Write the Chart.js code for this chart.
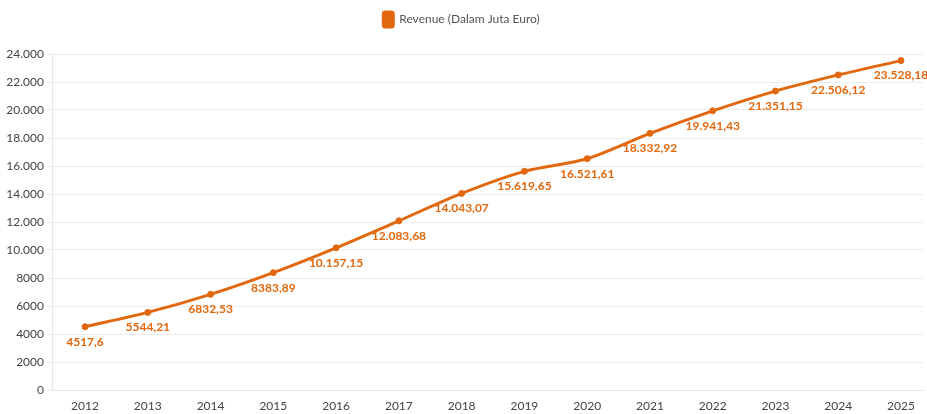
<!DOCTYPE html>
<html>
<head>
<meta charset="utf-8">
<script src="https://cdn.jsdelivr.net/npm/chart.js@4"></script>
<style>
  html, body { margin: 0; padding: 0; background: #fff; }
  #wrap { width: 927px; height: 414px; }
</style>
</head>
<body>
<div id="wrap"><canvas id="chart"></canvas></div>
<script>
const years = [2012, 2013, 2014, 2015, 2016, 2017, 2018, 2019, 2020, 2021, 2022, 2023, 2024, 2025];
const revenue = [4517.6, 5544.21, 6832.53, 8383.89, 10157.15, 12083.68, 14043.07, 15619.65, 16521.61, 18332.92, 19941.43, 21351.15, 22506.12, 23528.18];
const yTicks = [0, 2000, 4000, 6000, 8000, 10000, 12000, 14000, 16000, 18000, 20000, 22000, 24000];

const orange = '#e2680f';
const fontFam = 'Lato, "Open Sans", sans-serif';

// 8000 stays as is, 10.000 gets a dot (as in the picture)
function fmtNum(v) {
  if (Math.abs(v) >= 10000) return v.toLocaleString('de-DE', { maximumFractionDigits: 2 });
  return String(v).replace('.', ',');
}

// extra room under the legend
const legendGap = {
  id: 'legendGap',
  beforeInit(chart) {
    const origFit = chart.legend.fit;
    chart.legend.fit = function () {
      origFit.bind(chart.legend)();
      this.height += 17;
    };
  }
};

// value labels under each point
const valueLabels = {
  id: 'valueLabels',
  afterDatasetsDraw(chart) {
    const ctx = chart.ctx;
    const meta = chart.getDatasetMeta(0);
    ctx.save();
    ctx.font = 'bold 12px ' + fontFam;
    ctx.fillStyle = orange;
    ctx.textAlign = 'center';
    ctx.textBaseline = 'middle';
    meta.data.forEach((pt, i) => {
      ctx.fillText(fmtNum(revenue[i]), pt.x, pt.y + 15);
    });
    ctx.restore();
  }
};

new Chart(document.getElementById('chart'), {
  type: 'line',
  data: {
    datasets: [{
      label: 'Revenue (Dalam Juta Euro)',
      data: years.map((y, i) => ({ x: y, y: revenue[i] })),
      borderColor: orange,
      backgroundColor: orange,
      borderWidth: 3,
      pointRadius: 3,
      pointBorderWidth: 1,
      pointHoverRadius: 3,
      tension: 0.25,
      fill: false
    }]
  },
  options: {
    responsive: true,
    maintainAspectRatio: false,
    animation: false,
    layout: { padding: { top: 0, right: 4, bottom: 0, left: 0 } },
    plugins: {
      tooltip: { enabled: false },
      legend: {
        labels: {
          boxWidth: 10,
          boxHeight: 15,
          useBorderRadius: true,
          borderRadius: 2,
          color: '#555',
          font: { family: fontFam, size: 12 },
          padding: 12
        }
      }
    },
    scales: {
      x: {
        type: 'linear',
        min: 2011.474,
        max: 2025.35,
        afterBuildTicks: axis => { axis.ticks = years.map(v => ({ value: v })); },
        afterFit: axis => { axis.height = 24; },
        grid: { display: false },
        border: { display: true, color: '#e6e6e6' },
        ticks: {
          color: '#444',
          font: { family: fontFam, size: 12 },
          callback: v => String(v),
          autoSkip: false,
          maxRotation: 0,
          padding: 1
        }
      },
      y: {
        min: 0,
        max: 24000,
        afterBuildTicks: axis => { axis.ticks = yTicks.map(v => ({ value: v })); },
        afterFit: axis => { axis.width = 52; },
        grid: { color: '#ececec', tickLength: 6 },
        border: { display: true, color: '#e6e6e6' },
        ticks: {
          color: '#444',
          font: { family: fontFam, size: 12 },
          callback: v => fmtNum(v),
          padding: 2
        }
      }
    }
  },
  plugins: [legendGap, valueLabels]
});
</script>
</body>
</html>
